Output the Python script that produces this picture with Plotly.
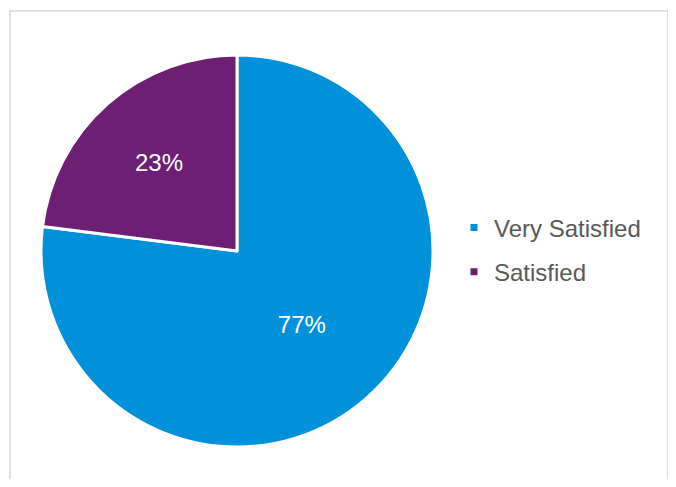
import plotly.graph_objects as go

labels = ["Very Satisfied", "Satisfied"]
values = [77, 23]
colors = ["#0091DA", "#6D1F74"]

# page body has an 8px margin, so the figure is drawn 8px in from the window edge
W, H = 660, 471
cx, cy, r = 229, 243, 196
FONT = "Liberation Sans, Arial"

fig = go.Figure()
fig.add_trace(go.Pie(
    labels=labels,
    values=values,
    sort=False,
    direction="clockwise",
    rotation=0,
    marker=dict(colors=colors, line=dict(color="white", width=3)),
    texttemplate="%{percent:.0%}",
    textposition="inside",
    insidetextorientation="horizontal",
    textfont=dict(family=FONT, size=24, color="white"),
    domain=dict(x=[(cx - r) / W, (cx + r) / W], y=[(H - cy - r) / H, (H - cy + r) / H]),
    hoverinfo="label+percent",
    showlegend=False,
))

# legend entries (small square markers, like the reference)
for lab, col in zip(labels, colors):
    fig.add_trace(go.Scatter(
        x=[None], y=[None], mode="markers", name=lab, legendgroup=lab,
        marker=dict(symbol="square", size=7, color=col),
        hoverinfo="skip",
    ))

fig.update_layout(
    width=W, height=H,
    margin=dict(l=0, r=0, t=0, b=0),
    paper_bgcolor="white",
    plot_bgcolor="white",
    xaxis=dict(visible=False),
    yaxis=dict(visible=False),
    showlegend=True,
    legend=dict(
        x=446 / W, y=(H - 242) / H, xanchor="left", yanchor="middle",
        font=dict(family=FONT, size=24, color="#595959"),
        bgcolor="rgba(0,0,0,0)",
        tracegroupgap=10,
        itemclick=False, itemdoubleclick=False,
    ),
    shapes=[dict(
        type="rect", xref="paper", yref="paper",
        x0=2 / W, x1=660 / W, y0=-0.2, y1=1 - 3 / H,
        line=dict(color="#D9D9D9", width=1.5), fillcolor="rgba(0,0,0,0)",
        layer="below",
    )],
)

fig.write_html("out.html")
